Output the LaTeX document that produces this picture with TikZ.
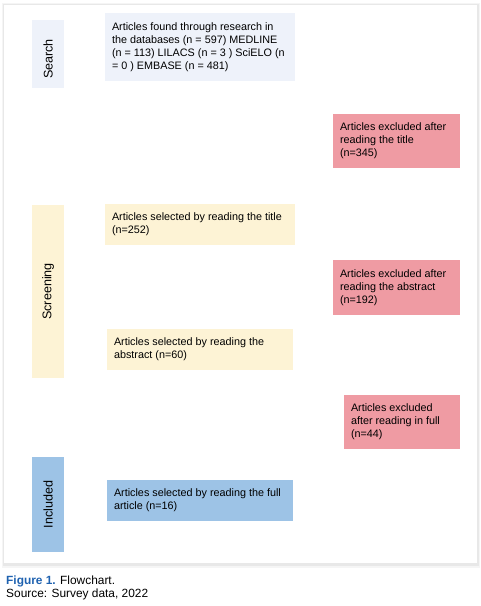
\documentclass[tikz,border=0pt]{standalone}
\usepackage{fontspec}
\setmainfont{Liberation Sans}
\definecolor{searchc}{HTML}{EEF2FA}
\definecolor{exclc}{HTML}{EF9BA3}
\definecolor{screenc}{HTML}{FDF3D5}
\definecolor{inclc}{HTML}{9DC3E6}
\definecolor{capc}{HTML}{1F62B0}
\begin{document}
\begin{tikzpicture}[x=1pt,y=-1pt,
  boxbg/.style={inner sep=0pt, draw=none},
  boxtxt/.style={anchor=west, align=left, inner sep=0pt, font=\fontsize{10.8}{13}\selectfont},
  stagetxt/.style={rotate=90, inner sep=0pt, font=\fontsize{12.6}{15}\selectfont}]
\useasboundingbox (0,0) rectangle (480,606);
% frame with soft shadow
\fill[black!4] (2,3) rectangle (480,568);
\fill[black!9] (3,4) rectangle (479,566);
\fill[white] (4,5) rectangle (477,563);
% stage boxes
\node[boxbg, fill=searchc, minimum width=32pt, minimum height=68pt] (search) at (48,54) {};
\node[stagetxt] (searchl) at ([yshift=-5pt]search.center) {Search};
\node[boxbg, fill=screenc, minimum width=32pt, minimum height=173pt] (screen) at (48,291.5) {};
\node[stagetxt] (screenl) at (screen.center) {Screening};
\node[boxbg, fill=inclc, minimum width=32pt, minimum height=95pt] (incl) at (48,504.5) {};
\node[stagetxt] (incll) at (incl.center) {Included};
% main boxes
\node[boxbg, fill=searchc, minimum width=190pt, minimum height=68pt] (found) at (200,47) {};
\node[boxtxt] (foundt) at ([xshift=7pt]found.west) {Articles found through research in\\the databases (n = 597) MEDLINE\\(n = 113) LILACS (n = 3 ) SciELO (n\\= 0 ) EMBASE (n = 481)};
\node[boxbg, fill=exclc, minimum width=127pt, minimum height=54pt] (ex1) at (396.5,141) {};
\node[boxtxt] (ex1t) at ([xshift=7pt]ex1.west) {Articles excluded after\\reading the title\\(n=345)};
\node[boxbg, fill=screenc, minimum width=190pt, minimum height=41pt] (sel1) at (200,224.5) {};
\node[boxtxt] (sel1t) at ([xshift=7pt]sel1.west) {Articles selected by reading the title\\(n=252)};
\node[boxbg, fill=exclc, minimum width=127pt, minimum height=55pt] (ex2) at (396.5,287.5) {};
\node[boxtxt] (ex2t) at ([xshift=7pt]ex2.west) {Articles excluded after\\reading the abstract\\(n=192)};
\node[boxbg, fill=screenc, minimum width=186pt, minimum height=41pt] (sel2) at (200,349.5) {};
\node[boxtxt] (sel2t) at ([xshift=7pt]sel2.west) {Articles selected by reading the\\abstract (n=60)};
\node[boxbg, fill=exclc, minimum width=116pt, minimum height=54pt] (ex3) at (402,422) {};
\node[boxtxt] (ex3t) at ([xshift=7pt]ex3.west) {Articles excluded\\after reading in full\\(n=44)};
\node[boxbg, fill=inclc, minimum width=186pt, minimum height=41pt] (sel3) at (200,500.5) {};
\node[boxtxt] (sel3t) at ([xshift=7pt]sel3.west) {Articles selected by reading the full\\article (n=16)};
% caption
\node[anchor=base west, inner sep=0pt, font=\fontsize{11.9}{13}\selectfont] (cap1) at (6,584) {\textcolor{capc}{\textbf{Figure 1.}} Flowchart.};
\node[anchor=base west, inner sep=0pt, font=\fontsize{11.9}{13}\selectfont] (cap2) at (6,597) {Source: Survey data, 2022};
\end{tikzpicture}
\end{document}
